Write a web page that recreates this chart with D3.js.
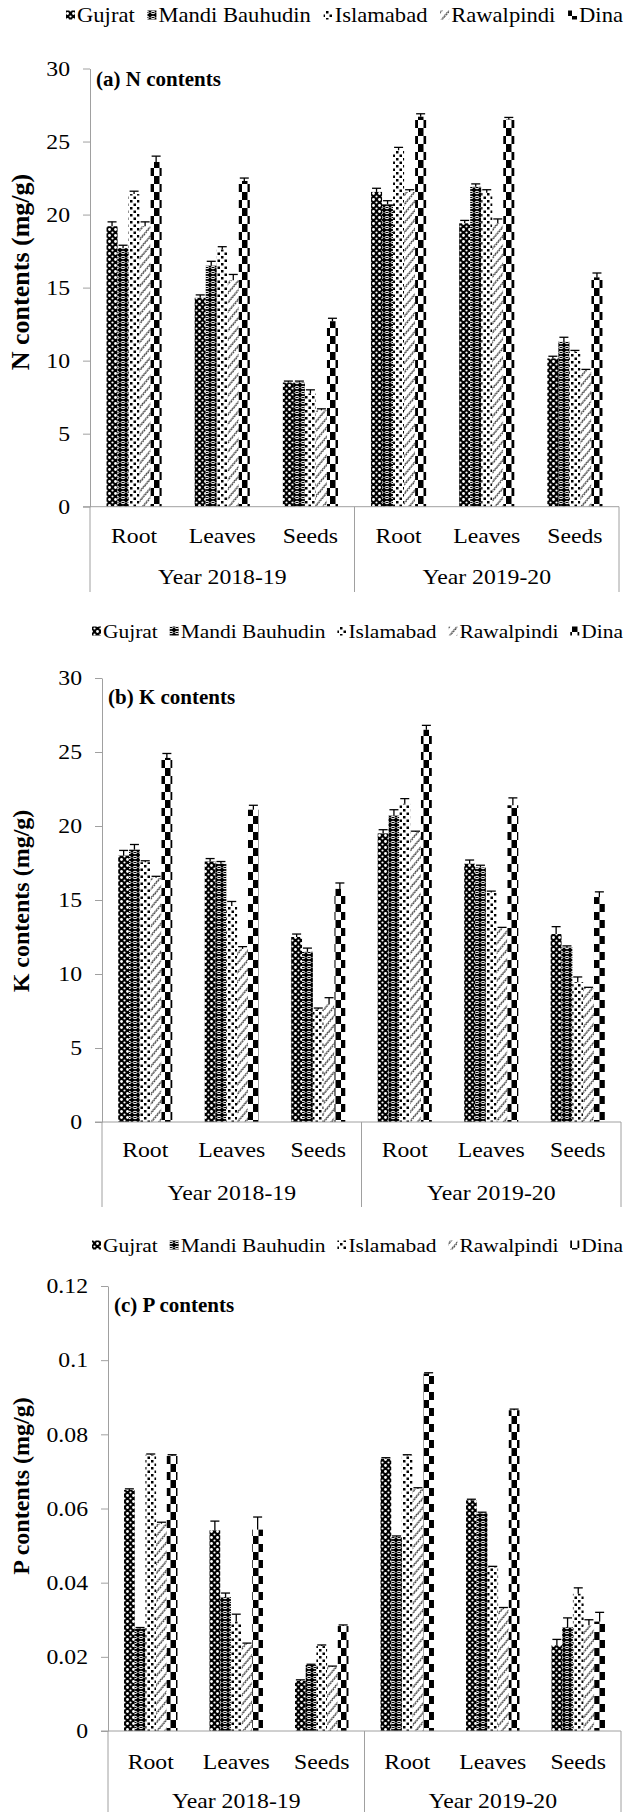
<!DOCTYPE html>
<html>
<head>
<meta charset="utf-8">
<script src="https://cdn.jsdelivr.net/npm/d3@7"></script>
<style>
  body { margin: 0; background: #fff; }
  svg { display: block; }
  svg text { font-family: 'Liberation Serif', 'Times New Roman', serif; fill: #000; }
</style>
</head>
<body>
<div id="chart"></div>
<script>
// categories along the x axis, grouped by year
var categories = ["Root", "Leaves", "Seeds", "Root", "Leaves", "Seeds"];
var years = ["Year 2018-19", "Year 2019-20"];
var sites = ["Gujrat", "Mandi Bauhudin", "Islamabad", "Rawalpindi", "Dina"];

// N contents (mg/g) - one row per site, one column per category
var nValues = [
    [19.2, 14.3, 8.5, 21.55, 19.4, 10.15],
    [17.7, 16.5, 8.5, 20.7, 21.9, 11.3],
    [21.4, 17.6, 7.75, 24.4, 21.5, 10.6],
    [19.2, 15.5, 6.6, 21.55, 19.4, 9.3],
    [23.6, 22.3, 12.7, 26.7, 26.5, 15.7]
];
var nErrors = [
    [0.3, 0.2, 0.1, 0.25, 0.2, 0.15],
    [0.2, 0.3, 0.1, 0.25, 0.2, 0.3],
    [0.2, 0.2, 0.25, 0.2, 0.2, 0.1],
    [0.3, 0.4, 0.1, 0.15, 0.3, 0.1],
    [0.4, 0.2, 0.2, 0.2, 0.15, 0.3]
];

// K contents (mg/g)
var kValues = [
    [18.0, 17.6, 12.5, 19.5, 17.45, 12.7],
    [18.4, 17.45, 11.5, 20.7, 17.2, 11.8],
    [17.55, 14.6, 7.6, 21.5, 15.5, 9.45],
    [16.5, 11.7, 7.95, 19.6, 13.1, 9.05],
    [24.6, 21.1, 15.75, 26.5, 21.4, 15.2]
];
var kErrors = [
    [0.35, 0.2, 0.2, 0.25, 0.25, 0.5],
    [0.35, 0.15, 0.25, 0.4, 0.15, 0.1],
    [0.1, 0.3, 0.1, 0.35, 0.1, 0.35],
    [0.1, 0.15, 0.45, 0.05, 0.05, 0.05],
    [0.3, 0.3, 0.4, 0.3, 0.5, 0.35]
];

// P contents (mg/g)
var pValues = [
    [0.065, 0.0541, 0.0135, 0.0734, 0.0622, 0.0231],
    [0.0276, 0.0361, 0.0178, 0.0523, 0.0587, 0.028],
    [0.0745, 0.0295, 0.0229, 0.0743, 0.0442, 0.037],
    [0.0559, 0.0235, 0.0173, 0.0653, 0.033, 0.0285],
    [0.0743, 0.0543, 0.0283, 0.0964, 0.0865, 0.0295]
];
var pErrors = [
    [0.0003, 0.0025, 0.0003, 0.0003, 0.0003, 0.0016],
    [0.0003, 0.0011, 0.0002, 0.0003, 0.0003, 0.0025],
    [0.0002, 0.002, 0.0003, 0.0002, 0.0002, 0.0016],
    [0.0004, 0.0002, 0.0002, 0.0003, 0.0003, 0.0015],
    [0.0002, 0.0034, 0.0003, 0.0002, 0.0003, 0.0025]
];

// tick labels
var nTicks = [0, 5, 10, 15, 20, 25, 30];
var kTicks = [0, 5, 10, 15, 20, 25, 30];
var pTicks = [0, 0.02, 0.04, 0.06, 0.08, 0.1, 0.12];

var svgWidth = 626;
var svgHeight = 1812;
var axisColor = "#a0a0a0";
// the original figure is a little stretched sideways
var textStretch = 1.13;

var svg = d3.select("#chart")
    .append("svg")
    .attr("width", svgWidth)
    .attr("height", svgHeight);

// move x/y into a transform so the text can be widened
function stretch(sel, k) {
    sel.each(function () {
        var t = d3.select(this);
        var x = +t.attr("x") || 0;
        var y = +t.attr("y") || 0;
        t.attr("x", 0).attr("y", 0)
            .attr("transform", `translate(${x},${y}) scale(${k},1)`);
    });
}

// black and white fill patterns, one per site
var defs = svg.append("defs");

function makePattern(id, w, h) {
    return defs.append("pattern")
        .attr("id", id)
        .attr("patternUnits", "userSpaceOnUse")
        .attr("width", w)
        .attr("height", h);
}

// Gujrat - black with white holes
var p0 = makePattern("pat-0", 6, 6);
p0.append("rect").attr("width", 6).attr("height", 6).attr("fill", "#000");
p0.append("circle").attr("cx", 1.5).attr("cy", 1.5).attr("r", 1.4).attr("fill", "#fff");
p0.append("circle").attr("cx", 4.5).attr("cy", 4.5).attr("r", 1.1).attr("fill", "#fff");

// Mandi Bauhudin - black with white rings
var p1 = makePattern("pat-1", 6, 5);
p1.append("rect").attr("width", 6).attr("height", 5).attr("fill", "#000");
p1.append("ellipse").attr("cx", 3).attr("cy", 2.5).attr("rx", 2).attr("ry", 1.2)
    .attr("fill", "none").attr("stroke", "#fff").attr("stroke-width", 1);

// Islamabad - white with black squares
var p2 = makePattern("pat-2", 7, 7);
p2.append("rect").attr("width", 7).attr("height", 7).attr("fill", "#fff");
p2.append("rect").attr("x", 0.5).attr("y", 0.5).attr("width", 2.5).attr("height", 2.5).attr("fill", "#000");
p2.append("rect").attr("x", 4).attr("y", 4).attr("width", 2.5).attr("height", 2.5).attr("fill", "#000");

// Rawalpindi - white with zigzag lines
var p3 = makePattern("pat-3", 6, 6);
p3.attr("patternTransform", "rotate(-50)");
p3.append("rect").attr("width", 6).attr("height", 6).attr("fill", "#fff");
p3.append("path").attr("d", "M0,4 L1.5,2 L3,4 L4.5,2 L6,4")
    .attr("fill", "none").attr("stroke", "#000").attr("stroke-width", 0.8);

// Dina - large checker blocks
var p4 = makePattern("pat-4", 11, 16);
p4.append("rect").attr("width", 11).attr("height", 16).attr("fill", "#fff");
p4.append("rect").attr("x", 0).attr("y", 0).attr("width", 5.5).attr("height", 8).attr("fill", "#000");
p4.append("rect").attr("x", 5.5).attr("y", 8).attr("width", 5.5).attr("height", 8).attr("fill", "#000");

// panel layouts
var panels = [
    {values: nValues, errors: nErrors, ticks: nTicks, title: "(a) N contents", ylab: "N contents (mg/g)",
     left: 90, right: 619, yTop: 68.5, y0: 506.7, bottom: 592, titleY: 86, catY: 543, yearY: 584,
     ylabY: 272, ylabSize: 26,
     legendY: 22, legendStart: 66, legendEnd: 623, legendSize: 20},
    {values: kValues, errors: kErrors, ticks: kTicks, title: "(b) K contents", ylab: "K contents (mg/g)",
     left: 102, right: 621, yTop: 678, y0: 1122, bottom: 1207, titleY: 704, catY: 1157, yearY: 1200,
     ylabY: 901, ylabSize: 24,
     legendY: 638, legendStart: 92, legendEnd: 623, legendSize: 19},
    {values: pValues, errors: pErrors, ticks: pTicks, title: "(c) P contents", ylab: "P contents (mg/g)",
     left: 108, right: 621, yTop: 1286, y0: 1731, bottom: 1812, titleY: 1312, catY: 1769, yearY: 1808,
     ylabY: 1486, ylabSize: 24,
     legendY: 1252, legendStart: 92, legendEnd: 623, legendSize: 19}
];

function drawLegend(cfg) {
    var g = svg.append("g").attr("font-size", cfg.legendSize);
    var items = sites.map(function (s, i) {
        var t = g.append("text").text(s);
        return {i: i, text: t, w: t.node().getComputedTextLength() * textStretch};
    });
    var iconW = 9, iconGap = 2;
    var used = d3.sum(items, d => iconW + iconGap + d.w);
    var gap = (cfg.legendEnd - cfg.legendStart - used) / (items.length - 1);
    var x = cfg.legendStart;
    items.forEach(function (d) {
        g.append("rect")
            .attr("x", x)
            .attr("y", cfg.legendY - 11.5)
            .attr("width", iconW)
            .attr("height", iconW)
            .attr("fill", "url(#pat-" + d.i + ")");
        d.text.attr("x", x + iconW + iconGap).attr("y", cfg.legendY);
        stretch(d.text, textStretch);
        x += iconW + iconGap + d.w + gap;
    });
}

function drawPanel(cfg) {
    var yScale = d3.scaleLinear()
        .domain([0, cfg.ticks[cfg.ticks.length - 1]])
        .range([cfg.y0, cfg.yTop]);

    var x0 = d3.scaleBand()
        .domain(d3.range(categories.length))
        .range([cfg.left, cfg.right])
        .paddingInner(0.375)
        .paddingOuter(0.1875);

    var x1 = d3.scaleBand()
        .domain(d3.range(sites.length))
        .range([0, x0.bandwidth()]);

    var step = x0.step();

    // y axis
    var yAxis = d3.axisLeft(yScale)
        .tickValues(cfg.ticks)
        .tickSize(7)
        .tickSizeOuter(0)
        .tickPadding(13)
        .tickFormat(d => String(d));

    var yg = svg.append("g")
        .attr("transform", `translate(${cfg.left}, 0)`)
        .call(yAxis)
        .attr("font-family", null)
        .attr("font-size", 21);
    yg.select(".domain").attr("stroke", axisColor);
    yg.selectAll(".tick line").attr("stroke", axisColor);
    yg.selectAll(".tick text").attr("fill", "#000").call(stretch, textStretch);

    // bars
    var cells = [];
    cfg.values.forEach(function (row, j) {
        row.forEach(function (v, i) {
            cells.push({cat: i, site: j, value: v, err: cfg.errors[j][i]});
        });
    });

    svg.append("g").selectAll("rect")
        .data(cells)
        .enter()
        .append("rect")
        .attr("x", d => x0(d.cat) + x1(d.site))
        .attr("y", d => yScale(d.value))
        .attr("width", x1.bandwidth())
        .attr("height", d => cfg.y0 - yScale(d.value))
        .attr("fill", d => "url(#pat-" + d.site + ")");

    // error bars (upper only)
    var eg = svg.append("g").attr("stroke", "#000").attr("stroke-width", 1.3);
    eg.selectAll("line.stem")
        .data(cells)
        .enter()
        .append("line")
        .attr("class", "stem")
        .attr("x1", d => x0(d.cat) + x1(d.site) + x1.bandwidth() / 2)
        .attr("x2", d => x0(d.cat) + x1(d.site) + x1.bandwidth() / 2)
        .attr("y1", d => yScale(d.value))
        .attr("y2", d => yScale(d.value + d.err));
    eg.selectAll("line.cap")
        .data(cells)
        .enter()
        .append("line")
        .attr("class", "cap")
        .attr("x1", d => x0(d.cat) + x1(d.site) + x1.bandwidth() / 2 - 4.5)
        .attr("x2", d => x0(d.cat) + x1(d.site) + x1.bandwidth() / 2 + 4.5)
        .attr("y1", d => yScale(d.value + d.err))
        .attr("y2", d => yScale(d.value + d.err));

    // x axis line and year dividers
    svg.append("line")
        .attr("x1", cfg.left - 7).attr("x2", cfg.right)
        .attr("y1", cfg.y0).attr("y2", cfg.y0)
        .attr("stroke", axisColor);

    [0, 3, 6].forEach(function (k) {
        var xx = cfg.left + k * step;
        svg.append("line")
            .attr("x1", xx).attr("x2", xx)
            .attr("y1", cfg.y0).attr("y2", cfg.bottom)
            .attr("stroke", axisColor);
    });

    // category labels
    svg.append("g").selectAll("text")
        .data(categories)
        .enter()
        .append("text")
        .attr("x", (d, i) => x0(i) + x0.bandwidth() / 2)
        .attr("y", cfg.catY)
        .attr("text-anchor", "middle")
        .attr("font-size", 21)
        .text(d => d)
        .call(stretch, textStretch);

    // year labels
    svg.append("g").selectAll("text")
        .data(years)
        .enter()
        .append("text")
        .attr("x", (d, i) => cfg.left + (i * 3 + 1.5) * step)
        .attr("y", cfg.yearY)
        .attr("text-anchor", "middle")
        .attr("font-size", 21)
        .text(d => d)
        .call(stretch, textStretch);

    // panel title
    svg.append("text")
        .attr("x", cfg.left + 6)
        .attr("y", cfg.titleY)
        .attr("font-size", 21)
        .attr("font-weight", "bold")
        .text(cfg.title);

    // y axis label
    svg.append("text")
        .attr("transform", `translate(29, ${cfg.ylabY}) rotate(-90)`)
        .attr("text-anchor", "middle")
        .attr("font-size", cfg.ylabSize)
        .attr("font-weight", "bold")
        .text(cfg.ylab);

    drawLegend(cfg);
}

panels.forEach(drawPanel);
</script>
</body>
</html>
